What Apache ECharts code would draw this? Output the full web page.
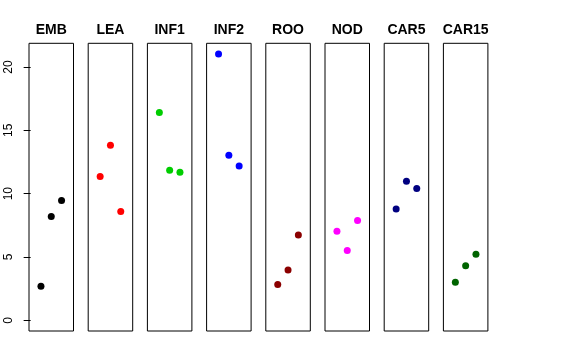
<!DOCTYPE html>
<html>
<head>
<meta charset="utf-8">
<script src="https://cdn.jsdelivr.net/npm/echarts@6/dist/echarts.min.js"></script>
<style>html,body{margin:0;padding:0;background:#fff;}#c{width:576px;height:360px;}</style>
</head>
<body>
<div id="c"></div>
<script>
const categories = ['EMB', 'LEA', 'INF1', 'INF2', 'ROO', 'NOD', 'CAR5', 'CAR15'];
const positions = [1, 2, 3];
const EMB = [2.70, 8.20, 9.46];
const LEA = [11.36, 13.82, 8.60];
const INF1 = [16.40, 11.85, 11.70];
const INF2 = [21.03, 13.04, 12.19];
const ROO = [2.84, 3.97, 6.73];
const NOD = [7.04, 5.52, 7.89];
const CAR5 = [8.80, 10.99, 10.41];
const CAR15 = [3.00, 4.31, 5.21];
const seriesValues = [EMB, LEA, INF1, INF2, ROO, NOD, CAR5, CAR15];
const colors = ['#000000', '#FF0000', '#00CD00', '#0000FF', '#8B0000', '#FF00FF', '#000080', '#006400'];
const yTicks = [0, 5, 10, 15, 20];

(function () {
const chart = echarts.init(document.getElementById('c'), null, {renderer: 'canvas'});
const left0 = 29, step = 59.2, gw = 44.5, gtop = 43.3, gh = 287.7;
const grid = [], xAxis = [], yAxis = [], series = [], title = [];
categories.forEach((name, i) => {
  const l = left0 + i * step;
  grid.push({left: l, top: gtop, width: gw, height: gh, show: true, borderColor: '#000', borderWidth: 1, backgroundColor: 'transparent'});
  title.push({text: name, left: l + gw / 2, top: 23, textAlign: 'center', padding: 0,
    textStyle: {fontFamily: 'Liberation Sans, Arial, sans-serif', fontWeight: 'bold', fontSize: 14, color: '#000'}});
  xAxis.push({gridIndex: i, type: 'value', min: -0.16, max: 4.16, show: false});
  yAxis.push({gridIndex: i, type: 'value', min: -0.84, max: 21.87, show: i === 0,
    axisLine: {show: false},
    splitLine: {show: false},
    axisTick: {show: i === 0, inside: false, length: 7, customValues: yTicks, lineStyle: {color: '#000', width: 1}},
    axisLabel: {show: i === 0, customValues: yTicks, rotate: 90, margin: 14, fontSize: 12,
      fontFamily: 'Liberation Sans, Arial, sans-serif', color: '#000'}
  });
  series.push({type: 'scatter', xAxisIndex: i, yAxisIndex: i, symbol: 'circle', symbolSize: 7,
    itemStyle: {color: colors[i], opacity: 1}, data: positions.map((p, k) => [p, seriesValues[i][k]]),
    emphasis: {disabled: true}, animation: false});
});
chart.setOption({animation: false, title, grid, xAxis, yAxis, series});
})();
</script>
</body>
</html>
